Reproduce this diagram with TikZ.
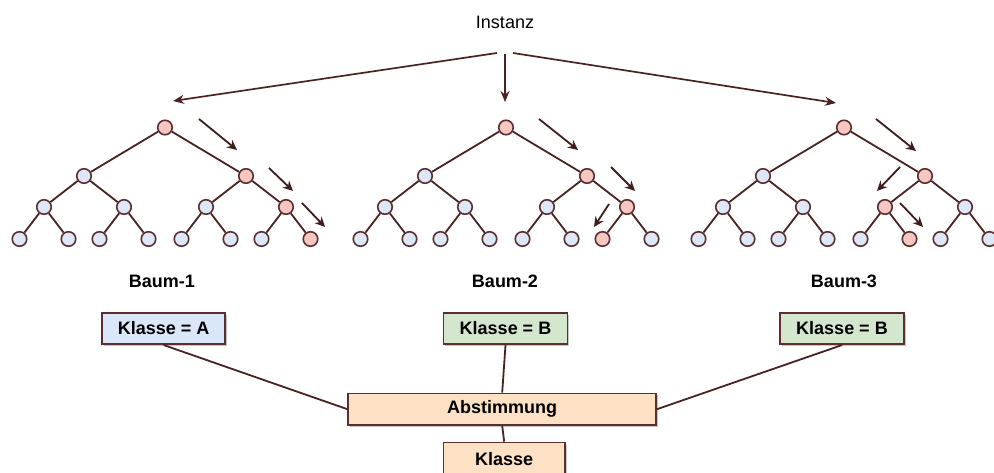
\documentclass[tikz,border=0pt]{standalone}
\usepackage{fontspec}
\setmainfont{Liberation Sans}
\usetikzlibrary{arrows.meta,calc,shadows}

\definecolor{rim}{HTML}{5C2E2E}
\definecolor{ink}{HTML}{4A2222}
\definecolor{leafblue}{HTML}{DCE8F7}
\definecolor{leafpink}{HTML}{F6C7C1}
\definecolor{boxblue}{HTML}{DAE7F8}
\definecolor{boxgreen}{HTML}{D5E6CF}
\definecolor{boxpeach}{HTML}{FDE1C5}

\tikzset{
  tn/.style={circle, draw=rim, fill=leafblue, line width=1.6pt,
             minimum size=14.5pt, inner sep=0pt},
  hot/.style={fill=leafpink},
  edge/.style={draw=ink, line width=1.8pt},
  guide/.style={draw=ink!85!black, line width=1.8pt,
                -{Stealth[length=10pt,width=9.5pt]}},
  feed/.style={draw=ink, line width=1.7pt,
               -{Stealth[length=11pt,width=9pt]}},
  lbl/.style={font=\fontsize{18}{20}\selectfont\bfseries},
  card/.style={draw=rim, line width=1.6pt, inner sep=0pt,
               minimum height=31.5pt, font=\fontsize{18}{20}\selectfont\bfseries,
               drop shadow={shadow xshift=1.5pt, shadow yshift=-2pt,
                            opacity=0.22, fill=black}},
  % highlighted decision path in each tree
  hl T1/.style=hot, hl T1b/.style=hot, hl T1bb/.style=hot, hl T1bbb/.style=hot,
  hl T2/.style=hot, hl T2b/.style=hot, hl T2bb/.style=hot, hl T2bba/.style=hot,
  hl T3/.style=hot, hl T3b/.style=hot, hl T3ba/.style=hot, hl T3bab/.style=hot,
}

% child node #1#2 placed at offset (#3,#4) from parent #1, joined by an edge
\newcommand\kid[4]{%
  \node[tn, hl #1#2/.try] (#1#2) at ($(#1)+(#3,#4)$) {};
  \draw[edge] (#1) -- (#1#2);
}
% complete binary tree of depth 3 with root #1 at x = #2
\newcommand\btree[2]{%
  \node[tn, hl #1/.try] (#1) at (#2,127.5) {};
  \kid{#1}{a}{-81}{48.5}\kid{#1}{b}{81}{48.5}
  \kid{#1a}{a}{-40}{31}\kid{#1a}{b}{40}{31}
  \kid{#1b}{a}{-40}{31}\kid{#1b}{b}{40}{31}
  \kid{#1aa}{a}{-24.5}{32}\kid{#1aa}{b}{24.5}{32}
  \kid{#1ab}{a}{-24.5}{32}\kid{#1ab}{b}{24.5}{32}
  \kid{#1ba}{a}{-24.5}{32}\kid{#1ba}{b}{24.5}{32}
  \kid{#1bb}{a}{-24.5}{32}\kid{#1bb}{b}{24.5}{32}
}

\begin{document}
\begin{tikzpicture}[x=1pt, y=-1pt]
\useasboundingbox (0,0) rectangle (994,473);

% input sample and its distribution to the trees
\node[font=\fontsize{18}{20}\selectfont] (inst) at (505,22.5) {Instanz};
\coordinate (srcL) at (497,53);
\coordinate (srcM) at (505,54);
\coordinate (srcR) at (513,53);
\coordinate (dstL) at (173,101);
\coordinate (dstM) at (505,102);
\coordinate (dstR) at (836,103);
\draw[feed] (srcL) -- (dstL);
\draw[feed] (srcM) -- (dstM);
\draw[feed] (srcR) -- (dstR);

% the three trees
\btree{T1}{165}
\btree{T2}{506}
\btree{T3}{844}

% arrows following the path through each tree
\foreach \i/\ax/\ay/\bx/\by in {
   1/199/119/237/150, 2/269/168/293/191, 3/302/203/325/227,
   4/539/119/578/150, 5/611/167/635/191, 6/609/204/594/227,
   7/876/119/916/151, 8/900/167/877/191, 9/900/203/923/227}{
  \coordinate (gs\i) at (\ax,\ay);
  \coordinate (ge\i) at (\bx,\by);
  \draw[guide] (gs\i) -- (ge\i);
}

% tree captions
\node[lbl] (cap1) at (162,281) {Baum-1};
\node[lbl] (cap2) at (505,281) {Baum-2};
\node[lbl] (cap3) at (844,281) {Baum-3};

% per-tree predictions
\node[card, fill=boxblue,  minimum width=123pt] (kA) at (163.7,328.5) {Klasse = A};
\node[card, fill=boxgreen, minimum width=124pt] (kB) at (505.5,328.5) {Klasse = B};
\node[card, fill=boxgreen, minimum width=124pt] (kC) at (842,328.5) {Klasse = B};

% majority vote and final result
\node[card, fill=boxpeach, minimum width=308pt, minimum height=31.7pt] (vote) at (502.2,409.2) {Abstimmung};
\node[card, fill=boxpeach, minimum width=121.7pt, minimum height=33pt, anchor=north] (final) at (504.2,441.7) {Klasse};

\draw[edge] (kA.south) -- (vote.west);
\draw[edge] (kB.south) -- (vote.north);
\draw[edge] (kC.south) -- (vote.east);
\draw[edge] (vote.south) -- (final.north);
\end{tikzpicture}
\end{document}
